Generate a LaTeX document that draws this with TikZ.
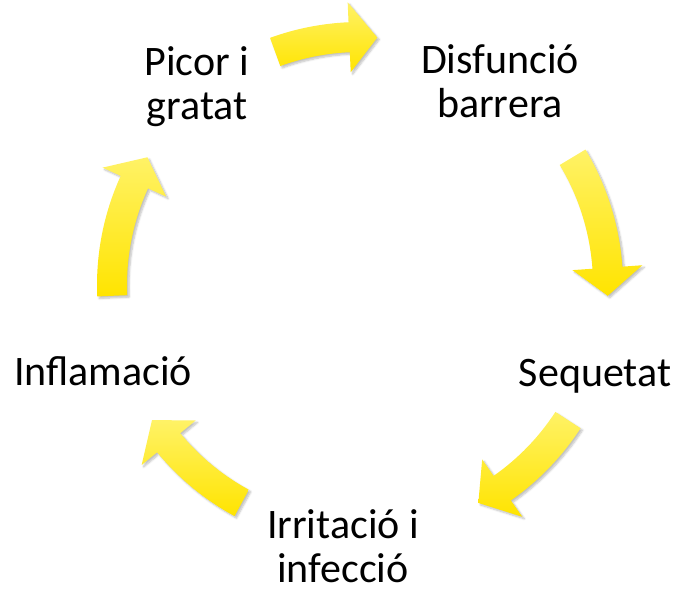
\documentclass[tikz,border=0pt]{standalone}
\usepackage{fontspec}
\setmainfont{Carlito}
\usepackage{tikz}
\usetikzlibrary{calc,shadows.blur}

\definecolor{arrowtop}{HTML}{FFF266}
\definecolor{arrowbot}{HTML}{FFE400}

% curved block arrow on the cycle: #1 tail angle, #2 tip angle
\newcommand{\cyclearrow}[2]{%
  \pgfmathsetmacro\hbase{#2+6.5}%
  \path[cycarrow] ($(c)+(#1:263)$) arc[start angle=#1, end angle=\hbase, radius=263]
    -- ($(c)+(\hbase:283)$) -- ($(c)+(#2:248)$) -- ($(c)+(\hbase:213)$)
    -- ($(c)+(\hbase:233)$) arc[start angle=\hbase, end angle=#1, radius=233] -- cycle;
}

\begin{document}
\begin{tikzpicture}[x=1pt,y=1pt,
  cyctext/.style={align=center,anchor=base,inner sep=0pt,font=\fontsize{42}{44}\selectfont},
  cycarrow/.style={top color=arrowtop,bottom color=arrowbot,
    blur shadow={shadow xshift=2pt,shadow yshift=-2pt,shadow blur steps=6,shadow opacity=25}}]
\useasboundingbox (0,0) rectangle (676,593);
\coordinate (c) at (360,308);

\cyclearrow{110}{86}
\cyclearrow{31}{-2.5}
\cyclearrow{-33}{-61.5}
\cyclearrow{-118.5}{-147}
\cyclearrow{182.5}{149}

\node[cyctext] (picor) at (197,473) {Picor i\\gratat};
\node[cyctext] (disf) at (500,475) {Disfunció\\barrera};
\node[cyctext] (seq) at (595,206) {Sequetat};
\node[cyctext] (irrit) at (343,10) {Irritació i\\infecció};
\node[cyctext] (infl) at (103,207) {Inflamació};
\end{tikzpicture}
\end{document}
